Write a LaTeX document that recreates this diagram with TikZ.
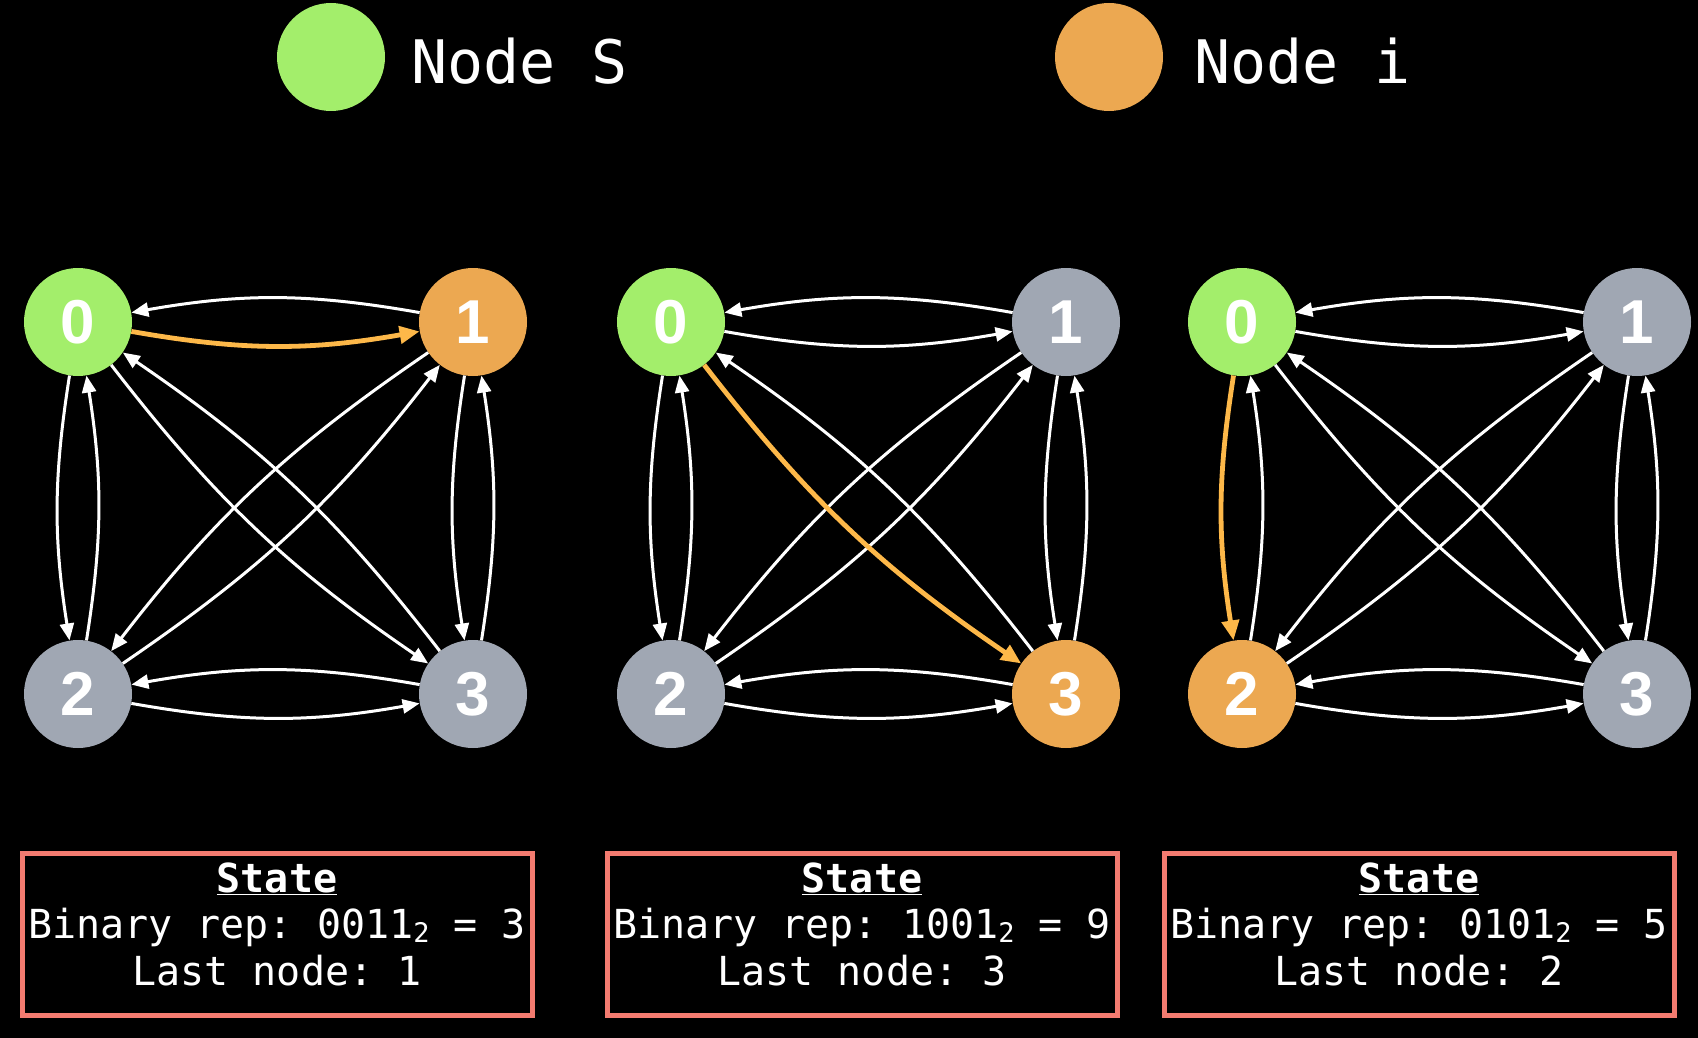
\documentclass[tikz,border=0pt]{standalone}
\usepackage{fontspec}
\setmonofont{DejaVu Sans Mono}
\newfontfamily\numfont{Liberation Sans}
\usetikzlibrary{arrows.meta}
\definecolor{sgreen}{HTML}{A3EE6B}
\definecolor{iorange}{HTML}{ECA851}
\definecolor{ngray}{HTML}{A0A7B3}
\definecolor{aorange}{HTML}{FDB849}
\definecolor{boxred}{HTML}{F37B70}
\tikzset{
  gnode/.style={circle, minimum size=108pt, inner sep=0pt, text=white,
    font=\numfont\bfseries\fontsize{62}{62}\selectfont},
  wedge/.style={white, line width=3pt, -{Triangle[length=17pt,width=14pt]}},
  hedge/.style={aorange, line width=4.8pt, -{Triangle[length=20pt,width=17pt]}},
  legtext/.style={text=white, anchor=base west, inner sep=0pt,
    font=\ttfamily\fontsize{60}{60}\selectfont},
  statebox/.style={draw=boxred, line width=5pt, minimum width=510pt, minimum height=162pt, inner sep=0pt},
  stext/.style={text=white, anchor=base, inner sep=0pt, font=\ttfamily\fontsize{40}{46}\selectfont}
}
\newcommand\subtwo{\raisebox{-0.1em}{\fontsize{27}{27}\selectfont 2}}
\newcommand\drawpanel[7]{%
  \node[gnode, fill=#3] (#2n0) at (#1,322) {0};
  \node[gnode, fill=#4] (#2n1) at (#1+395,322) {1};
  \node[gnode, fill=#5] (#2n2) at (#1,694) {2};
  \node[gnode, fill=#6] (#2n3) at (#1+395,694) {3};
  \foreach \a/\b/\bd in {0/1/10,1/0/10,0/2/9,2/0/9,1/3/9,3/1/9,2/3/10,3/2/10,0/3/9,3/0/9,1/2/9,2/1/9}{
    \ifnum\a\b=#7\relax\else
      \draw[wedge] (#2n\a) to[bend right=\bd] (#2n\b);
    \fi
  }
  \foreach \a/\b/\bd in {0/1/10,1/0/10,0/2/9,2/0/9,1/3/9,3/1/9,2/3/10,3/2/10,0/3/9,3/0/9,1/2/9,2/1/9}{
    \ifnum\a\b=#7\relax
      \draw[hedge] (#2n\a) to[bend right=\bd] (#2n\b);
    \fi
  }
}
\begin{document}
\begin{tikzpicture}[x=1pt,y=-1pt]
\fill[black] (0,0) rectangle (1698,1038);
% legend
\node[circle, fill=sgreen, minimum size=108pt, inner sep=0pt] (legS) at (331,57) {};
\node[legtext] (legSt) at (411,84) {Node S};
\node[circle, fill=iorange, minimum size=108pt, inner sep=0pt] (legI) at (1109,57) {};
\node[legtext] (legIt) at (1194,84) {Node i};
% panels
\drawpanel{78}{a}{sgreen}{iorange}{ngray}{ngray}{01}
\drawpanel{671}{b}{sgreen}{ngray}{ngray}{iorange}{03}
\drawpanel{1242}{c}{sgreen}{ngray}{iorange}{ngray}{02}
% state boxes
\node[statebox] (boxa) at (277,934.5) {};
\node[stext] (sta) at (277,892) {\bfseries\underline{State}};
\node[stext] (bra) at (277,938) {Binary rep: 0011\subtwo{} = 3};
\node[stext] (lna) at (277,985) {Last node: 1};
\node[statebox] (boxb) at (862,934.5) {};
\node[stext] (stb) at (862,892) {\bfseries\underline{State}};
\node[stext] (brb) at (862,938) {Binary rep: 1001\subtwo{} = 9};
\node[stext] (lnb) at (862,985) {Last node: 3};
\node[statebox] (boxc) at (1419,934.5) {};
\node[stext] (stc) at (1419,892) {\bfseries\underline{State}};
\node[stext] (brc) at (1419,938) {Binary rep: 0101\subtwo{} = 5};
\node[stext] (lnc) at (1419,985) {Last node: 2};
\end{tikzpicture}
\end{document}
